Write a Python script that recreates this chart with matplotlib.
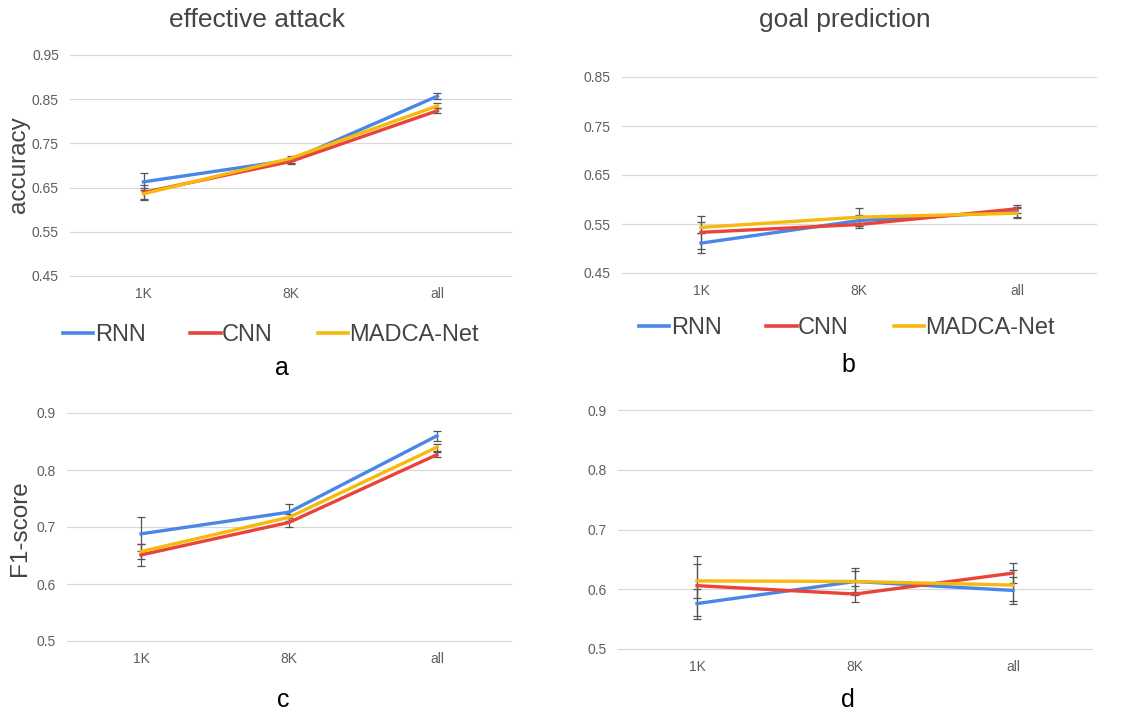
import matplotlib.pyplot as plt
from matplotlib.lines import Line2D

plt.rcParams['font.family'] = ['Liberation Sans', 'DejaVu Sans']

sizes = ['1K', '8K', 'all']
models = ['RNN', 'CNN', 'MADCA-Net']
colors = ['#4a86e8', '#e8443a', '#f6b90c']

# effective attack - accuracy
acc_att = [[0.663, 0.712, 0.857], [0.639, 0.709, 0.824], [0.636, 0.716, 0.835]]
acc_att_err = [[0.019, 0.006, 0.007], [0.017, 0.006, 0.006], [0.012, 0.006, 0.006]]
# goal prediction - accuracy
acc_goal = [[0.511, 0.557, 0.575], [0.533, 0.549, 0.581], [0.543, 0.564, 0.572]]
acc_goal_err = [[0.021, 0.012, 0.010], [0.033, 0.008, 0.008], [0.012, 0.018, 0.010]]
# effective attack - F1
f1_att = [[0.688, 0.726, 0.860], [0.651, 0.708, 0.827], [0.657, 0.717, 0.840]]
f1_att_err = [[0.030, 0.015, 0.009], [0.020, 0.008, 0.005], [0.013, 0.006, 0.006]]
# goal prediction - F1
f1_goal = [[0.576, 0.613, 0.598], [0.606, 0.592, 0.627], [0.614, 0.613, 0.607]]
f1_goal_err = [[0.025, 0.023, 0.022], [0.050, 0.014, 0.017], [0.028, 0.017, 0.026]]

W, H = 1141, 715
fig = plt.figure(figsize=(W / 100, H / 100), dpi=100)


def px_axes(x0, x1, y0, y1):
    return fig.add_axes([x0 / W, 1 - y1 / H, (x1 - x0) / W, (y1 - y0) / H])


def panel(ax, vals, errs, ylim, yticks, fmt):
    x = range(len(sizes))
    for v, e, c in zip(vals, errs, colors):
        ax.errorbar(x, v, yerr=e, color=c, lw=2.4, ecolor='#555555',
                    elinewidth=0.9, capsize=3, capthick=0.9, zorder=3)
    ax.set_xlim(-0.5, 2.5)
    ax.set_ylim(*ylim)
    ax.set_yticks(yticks)
    ax.set_yticklabels([fmt.format(t) for t in yticks])
    ax.set_xticks(list(x))
    ax.set_xticklabels(sizes)
    ax.grid(axis='y', color='#d9d9d9', lw=0.9)
    for gl in ax.get_ygridlines():
        gl.set_clip_on(False)
    ax.set_axisbelow(True)
    for s in ax.spines.values():
        s.set_visible(False)
    ax.tick_params(length=0, labelsize=10, labelcolor='#5f5f5f')
    ax.tick_params(axis='x', pad=8)
    ax.tick_params(axis='y', pad=8)


ax_a = px_axes(70, 511, 55, 276)
panel(ax_a, acc_att, acc_att_err, (0.45, 0.95), [0.45, 0.55, 0.65, 0.75, 0.85, 0.95], '{:.2f}')
ax_b = px_axes(622, 1096, 77, 273)
panel(ax_b, acc_goal, acc_goal_err, (0.45, 0.85), [0.45, 0.55, 0.65, 0.75, 0.85], '{:.2f}')
ax_c = px_axes(67, 511, 413, 641)
panel(ax_c, f1_att, f1_att_err, (0.5, 0.9), [0.5, 0.6, 0.7, 0.8, 0.9], '{:g}')
ax_d = px_axes(618, 1092, 410, 649)
panel(ax_d, f1_goal, f1_goal_err, (0.5, 0.9), [0.5, 0.6, 0.7, 0.8, 0.9], '{:g}')

fig.text(257 / W, 1 - 20 / H, 'effective attack', fontsize=19, color='#444444',
         ha='center', va='center')
fig.text(845 / W, 1 - 20 / H, 'goal prediction', fontsize=19, color='#444444',
         ha='center', va='center')
fig.text(19 / W, 1 - 165 / H, 'accuracy', fontsize=17.5, color='#444444',
         rotation=90, ha='center', va='center')
fig.text(20 / W, 1 - 528 / H, 'F1-score', fontsize=17.5, color='#444444',
         rotation=90, ha='center', va='center')

handles = [Line2D([], [], color=c, lw=2.6) for c in colors]
for cx, cy in [(271, 335), (847, 328)]:
    fig.legend(handles, models, loc='center', bbox_to_anchor=(cx / W, 1 - cy / H),
               ncol=3, frameon=False, fontsize=17, handlelength=1.3,
               handletextpad=0.05, columnspacing=1.9, labelcolor='#444444')

for lab, cx, cy in [('a', 282, 368), ('b', 848, 365), ('c', 283, 700), ('d', 848, 700)]:
    fig.text(cx / W, 1 - cy / H, lab, fontsize=18, color='black', ha='center', va='center')

fig.savefig('out.png', dpi=100, facecolor='white')
